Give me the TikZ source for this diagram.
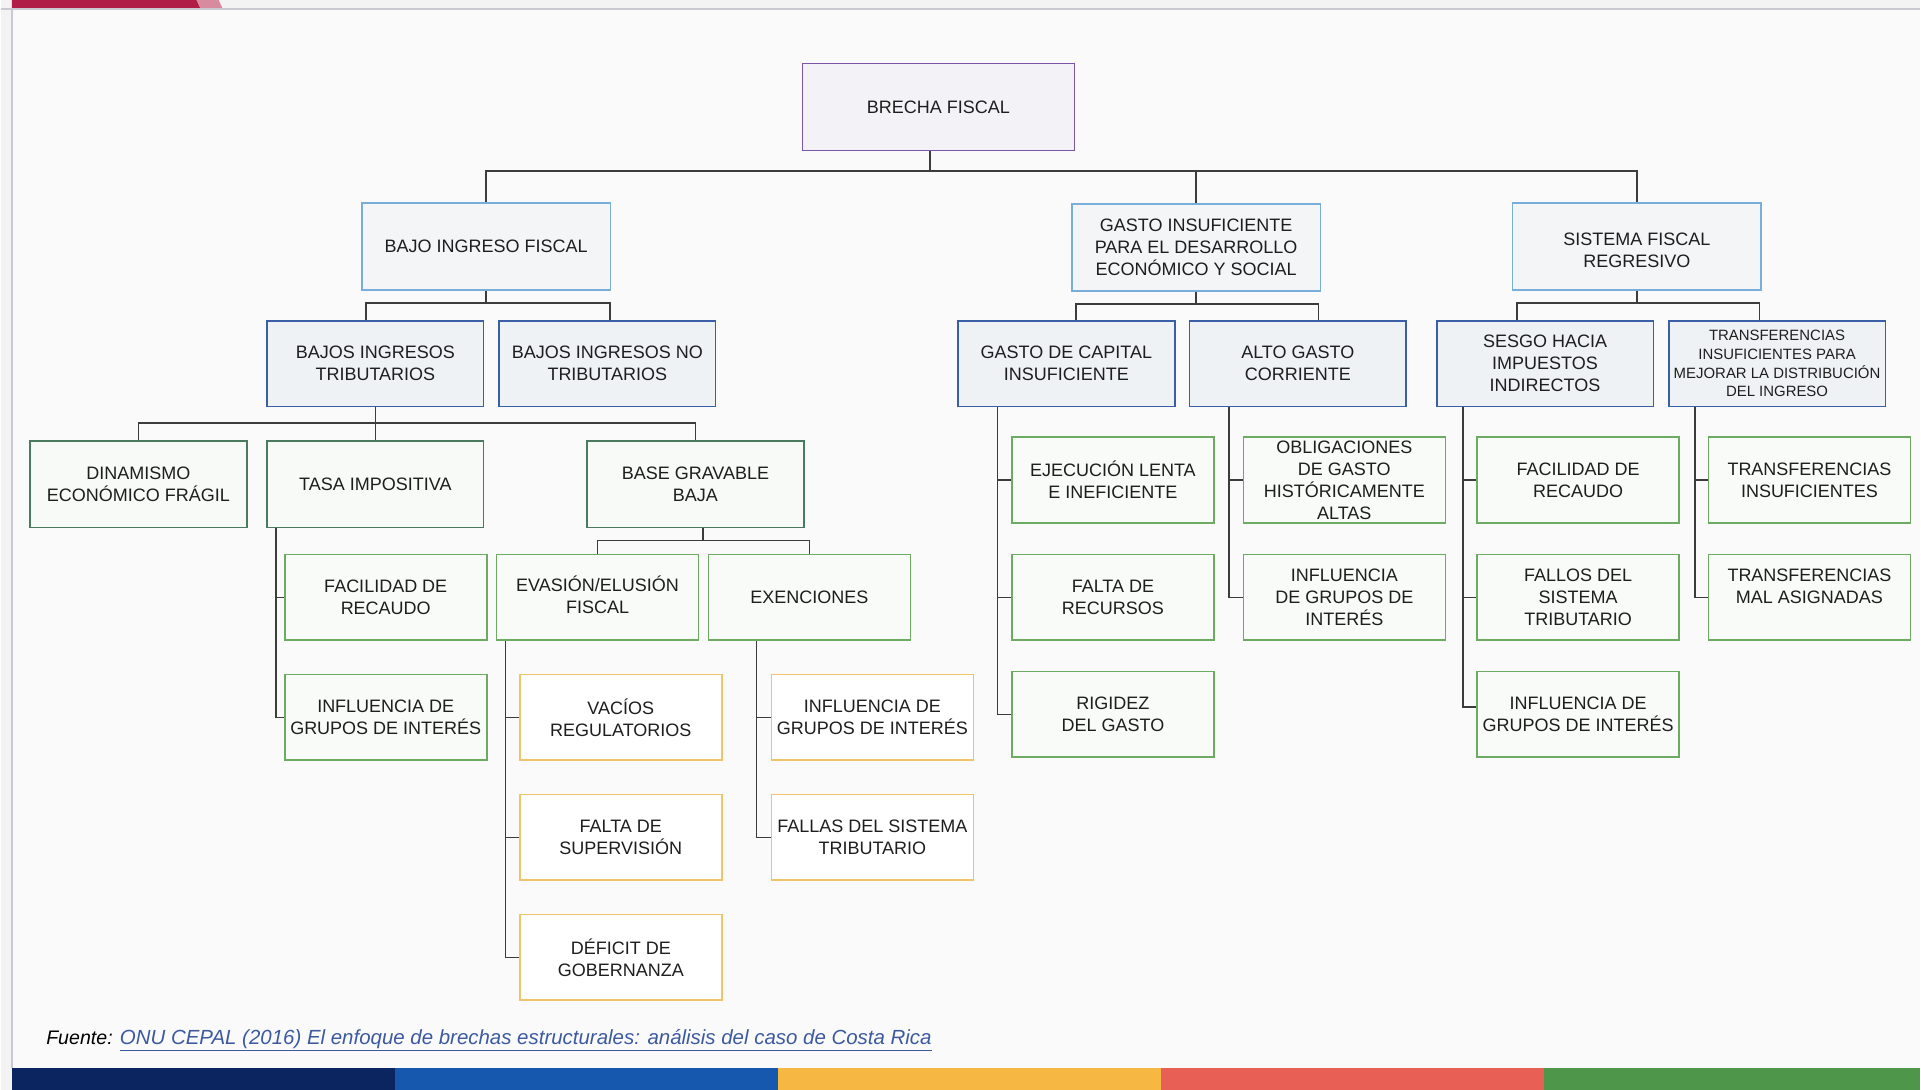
\documentclass[tikz,border=0pt]{standalone}
\usepackage{fontspec}
\setmainfont{Liberation Sans}
\usetikzlibrary{calc}
\definecolor{pagebg}{HTML}{FAFAFA}
\definecolor{outerbg}{HTML}{F3F3F3}
\definecolor{framec}{HTML}{C9C9D1}
\definecolor{rootb}{HTML}{7B55A8}
\definecolor{rootf}{HTML}{F3F3F7}
\definecolor{lab}{HTML}{7AAEDA}
\definecolor{laf}{HTML}{F4F5F7}
\definecolor{lbb}{HTML}{3A5FA6}
\definecolor{lbf}{HTML}{EEF2F5}
\definecolor{lcb}{HTML}{4A7A5F}
\definecolor{lcf}{HTML}{F7FAF7}
\definecolor{leafb}{HTML}{6DAA62}
\definecolor{leaff}{HTML}{F8FBF7}
\definecolor{orb}{HTML}{F2C46A}
\definecolor{orf}{HTML}{FFFFFF}
\definecolor{connc}{HTML}{3C3C3C}
\definecolor{txt}{HTML}{1E1E1E}
\definecolor{linkc}{HTML}{3D5AA0}
\definecolor{redbar}{HTML}{B01E48}
\definecolor{pinkbar}{HTML}{D88A9E}
\definecolor{barA}{HTML}{0B2560}
\definecolor{barB}{HTML}{1658AD}
\definecolor{barC}{HTML}{F7B843}
\definecolor{barD}{HTML}{E85F55}
\definecolor{barE}{HTML}{4E964A}
\tikzset{
  boxbase/.style={draw, line width=1.3pt, align=center, text=txt, inner sep=1pt,
    font=\fontsize{14.7}{18}\selectfont},
  rootbox/.style={boxbase, draw=rootb, fill=rootf, minimum width=222pt, minimum height=71pt},
  lonebox/.style={boxbase, draw=lab, fill=laf, minimum width=203pt, minimum height=71pt},
  ltwobox/.style={boxbase, draw=lbb, fill=lbf, minimum width=177pt, minimum height=70pt},
  lthreebox/.style={boxbase, draw=lcb, fill=lcf, minimum width=177pt, minimum height=71pt},
  leafbox/.style={boxbase, draw=leafb, fill=leaff, minimum width=165pt, minimum height=70pt},
  orbox/.style={boxbase, draw=orb, fill=orf, minimum width=165pt, minimum height=70pt},
  conn/.style={draw=connc, line width=1.2pt},
}
\begin{document}
\begin{tikzpicture}[x=1pt,y=-1pt]
% background
\fill[outerbg] (0,0) rectangle (1568,890);
\fill[pagebg] (9,8) rectangle (1568,872);
\draw[framec, line width=1.2pt] (0,7.5) -- (1568,7.5);
\draw[framec, line width=1.5pt] (9,7.5) -- (9,872);
\fill[redbar] (9,0) -- (160,0) -- (163,6.5) -- (9,6.5) -- cycle;
\fill[pinkbar] (160,0) -- (178,0) -- (181,6.5) -- (163,6.5) -- cycle;
% bottom bar
\fill[barA] (9,872) rectangle (322,890);
\fill[barB] (322,872) rectangle (635,890);
\fill[barC] (635,872) rectangle (948,890);
\fill[barD] (948,872) rectangle (1261,890);
\fill[barE] (1261,872) rectangle (1568,890);

% root
\node[rootbox] (root) at (766,87.5) {BRECHA FISCAL};
% level 1
\node[lonebox] (bif) at (396.5,201.5) {BAJO INGRESO FISCAL};
\node[lonebox] (gis) at (976.5,202) {GASTO INSUFICIENTE\\PARA EL DESARROLLO\\ECONÓMICO Y SOCIAL};
\node[lonebox, text height=34.5pt] (sfr) at (1336.5,201.5) {SISTEMA FISCAL\\REGRESIVO};
% level 2
\node[ltwobox] (bit) at (306,297) {BAJOS INGRESOS\\TRIBUTARIOS};
\node[ltwobox] (bint) at (495.5,297) {BAJOS INGRESOS NO\\TRIBUTARIOS};
\node[ltwobox] (gci) at (870.5,297) {GASTO DE CAPITAL\\INSUFICIENTE};
\node[ltwobox] (agc) at (1059.5,297) {ALTO GASTO\\CORRIENTE};
\node[ltwobox] (shi) at (1261.5,297) {SESGO HACIA\\IMPUESTOS\\INDIRECTOS};
\node[ltwobox, font=\fontsize{12.2}{15.3}\selectfont] (tip) at (1451,297) {TRANSFERENCIAS\\INSUFICIENTES PARA\\MEJORAR LA DISTRIBUCIÓN\\DEL INGRESO};
% level 3
\node[lthreebox] (def) at (112.5,395.5) {DINAMISMO\\ECONÓMICO FRÁGIL};
\node[lthreebox] (tas) at (306,395.5) {TASA IMPOSITIVA};
\node[lthreebox] (bgb) at (567.5,395.5) {BASE GRAVABLE\\BAJA};
% tasa children
\node[leafbox] (tfr) at (314.5,488) {FACILIDAD DE\\RECAUDO};
\node[leafbox] (tig) at (314.5,586) {INFLUENCIA DE\\GRUPOS DE INTERÉS};
% base gravable children
\node[leafbox, text depth=4pt] (eva) at (487.5,488) {EVASIÓN/ELUSIÓN\\FISCAL};
\node[leafbox] (exe) at (660.5,488) {EXENCIONES};
% evasion children
\node[orbox] (vac) at (506.5,586) {VACÍOS\\REGULATORIOS};
\node[orbox] (fsu) at (506.5,684) {FALTA DE\\SUPERVISIÓN};
\node[orbox] (dgo) at (506.5,782) {DÉFICIT DE\\GOBERNANZA};
% exenciones children
\node[orbox] (eig) at (712,586) {INFLUENCIA DE\\GRUPOS DE INTERÉS};
\node[orbox] (fst) at (712,684) {FALLAS DEL SISTEMA\\TRIBUTARIO};
% gasto capital children
\node[leafbox] (eli) at (908.5,392) {EJECUCIÓN LENTA\\E INEFICIENTE};
\node[leafbox] (fre) at (908.5,488) {FALTA DE\\RECURSOS};
\node[leafbox] (rga) at (908.5,583.5) {RIGIDEZ\\DEL GASTO};
% alto gasto children
\node[leafbox] (oga) at (1097.5,392) {OBLIGACIONES\\DE GASTO\\HISTÓRICAMENTE\\ALTAS};
\node[leafbox] (aig) at (1097.5,488) {INFLUENCIA\\DE GRUPOS DE\\INTERÉS};
% sesgo children
\node[leafbox] (sfr2) at (1288.5,392) {FACILIDAD DE\\RECAUDO};
\node[leafbox] (sfs) at (1288.5,488) {FALLOS DEL\\SISTEMA\\TRIBUTARIO};
\node[leafbox] (sig) at (1288.5,583.5) {INFLUENCIA DE\\GRUPOS DE INTERÉS};
% transferencias children
\node[leafbox] (tin) at (1477.5,392) {TRANSFERENCIAS\\INSUFICIENTES};
\node[leafbox, text depth=18pt] (tma) at (1477.5,488) {TRANSFERENCIAS\\MAL ASIGNADAS};

% connectors root -> level 1
\coordinate (rs) at ([xshift=-7pt]root.south);
\foreach \c in {bif,gis,sfr} \draw[conn] (rs) -- ++(0,16) -| (\c.north);
% level1 -> level2 (drops symmetric about parent)
\draw[conn] (bif.south) -- ++(0,10) -| ([xshift=-98pt]bif.south |- bit.north);
\draw[conn] (bif.south) -- ++(0,10) -| ([xshift=101pt]bif.south |- bint.north);
\draw[conn] (gis.south) -- ++(0,10) -| ([xshift=-98pt]gis.south |- gci.north);
\draw[conn] (gis.south) -- ++(0,10) -| ([xshift=100pt]gis.south |- agc.north);
\draw[conn] (sfr.south) -- ++(0,10) -| ([xshift=-98pt]sfr.south |- shi.north);
\draw[conn] (sfr.south) -- ++(0,10) -| ([xshift=100pt]sfr.south |- tip.north);
% bajos ingresos tributarios -> level 3
\foreach \c in {def,tas,bgb} \draw[conn] (bit.south) -- ++(0,13) -| (\c.north);
% base gravable -> evasion, exenciones
\foreach \c in {eva,exe} \draw[conn] ([xshift=6pt]bgb.south) -- ++(0,10) -| (\c.north);
% side trees
\foreach \c in {tfr,tig} \draw[conn] ([xshift=8pt]tas.south west) |- (\c.west);
\foreach \c in {vac,fsu,dgo} \draw[conn] ([xshift=8pt]eva.south west) |- (\c.west);
\foreach \c in {eig,fst} \draw[conn] ([xshift=40pt]exe.south west) |- (\c.west);
\foreach \c in {eli,fre,rga} \draw[conn] ([xshift=33pt]gci.south west) |- (\c.west);
\foreach \c in {oga,aig} \draw[conn] ([xshift=33pt]agc.south west) |- (\c.west);
\foreach \c in {sfr2,sfs} \draw[conn] ([xshift=22pt]shi.south west) |- (\c.west);
\draw[conn] ([xshift=22pt]shi.south west) |- ([yshift=6pt]sig.west);
\foreach \c in {tin,tma} \draw[conn] ([xshift=22pt]tip.south west) |- (\c.west);

% source
\node[anchor=base west, inner sep=0pt, font=\fontsize{16}{19}\selectfont\itshape] (src) at (37,853)
  {Fuente: \textcolor{linkc}{\fontsize{16.7}{19}\selectfont\underline{ONU CEPAL (2016) El enfoque de brechas estructurales: análisis del caso de Costa Rica}}};
\end{tikzpicture}
\end{document}
